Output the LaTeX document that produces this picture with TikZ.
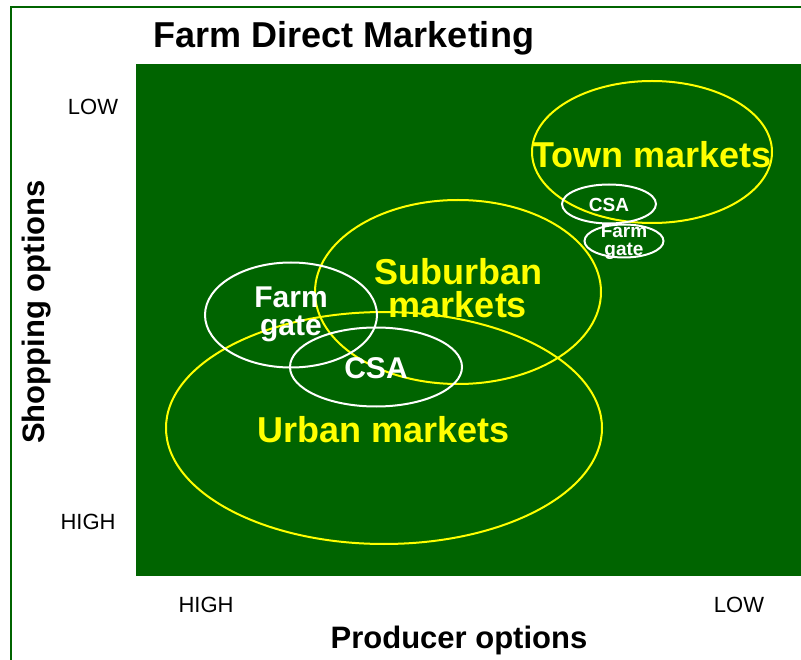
\documentclass[tikz,border=0pt]{standalone}
\usepackage{fontspec}
\setmainfont{Liberation Sans}
\usetikzlibrary{shapes.geometric}
\definecolor{fieldgreen}{HTML}{006400}
\definecolor{marketyellow}{HTML}{FFFF00}
\newcommand{\fsz}[2]{\fontsize{#1}{#2}\selectfont}
\begin{document}
\begin{tikzpicture}[x=1pt,y=-1pt,
  market/.style={ellipse, draw=marketyellow, line width=2pt, inner sep=0pt},
  outlet/.style={ellipse, draw=white, line width=2pt, inner sep=0pt},
  bigtext/.style={text=marketyellow, font=\bfseries\fsz{36}{33}, align=center, inner sep=0pt},
  midtext/.style={text=white, font=\bfseries\fsz{30}{28}, align=center, inner sep=0pt},
  smalltext/.style={text=white, font=\bfseries\fsz{19}{18}, align=center, inner sep=0pt},
  axisend/.style={text=black, font=\fsz{22}{22}, inner sep=0pt},
  axistitle/.style={text=black, font=\bfseries\fsz{31}{31}, inner sep=0pt}]
\useasboundingbox (0,0) rectangle (801,660);
\fill[white] (0,0) rectangle (801,660);

% outer frame
\draw[fieldgreen, line width=2pt] (11,660) -- (11,7) -- (801,7);

% title
\node[font=\bfseries\fsz{36}{36}, inner sep=0pt, anchor=base] (title) at (344,48) {Farm Direct Marketing};

% plot field
\fill[fieldgreen] (136,64) rectangle (801,576);

% market ellipses
\node[market, minimum width=436pt, minimum height=232pt] (urban) at (384,428) {};
\node[market, minimum width=286pt, minimum height=184pt] (suburban) at (458,292) {};
\node[market, minimum width=240pt, minimum height=142pt] (town) at (652,152) {};

% outlet ellipses
\node[outlet, minimum width=172pt, minimum height=105pt] (gateA) at (291,315) {};
\node[outlet, minimum width=172pt, minimum height=79pt] (csaA) at (376,367) {};
\node[outlet, minimum width=94pt, minimum height=39pt] (csaB) at (609,204) {};
\node[outlet, minimum width=79pt, minimum height=33pt] (gateB) at (624,241) {};

% labels
\node[bigtext] (urbanlbl) at (384,430) {Urban markets};
\node[bigtext] (suburbanlbl) at (458,288) {Suburban\\markets};
\node[bigtext] (townlbl) at (652,155) {Town markets};
\node[midtext] (gateAlbl) at (291,314) {Farm\\gate};
\node[midtext] (csaAlbl) at (376,368) {CSA};
\node[smalltext] (csaBlbl) at (609,205) {CSA};
\node[smalltext] (gateBlbl) at (624,242) {Farm\\gate};

% axes
\node[axisend] (ylow) at (93,107) {LOW};
\node[axisend] (yhigh) at (88,522) {HIGH};
\node[axisend] (xhigh) at (206,605) {HIGH};
\node[axisend] (xlow) at (739,605) {LOW};
\node[axistitle, rotate=90] (ytitle) at (37,312) {Shopping options};
\node[axistitle] (xtitle) at (459,640) {Producer options};
\end{tikzpicture}
\end{document}
